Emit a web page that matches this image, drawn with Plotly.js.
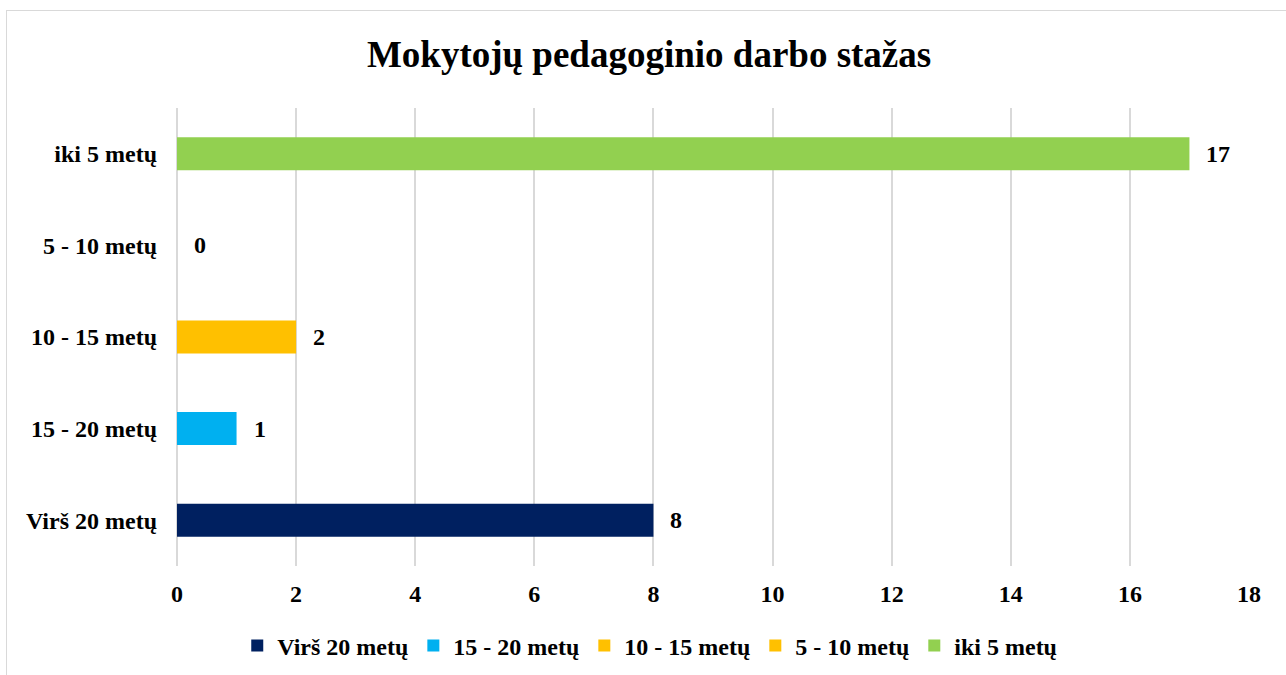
<!DOCTYPE html>
<html>
<head>
<meta charset="utf-8">
<script src="https://cdn.plot.ly/plotly-3.0.1.min.js"></script>
<style>
  html, body { margin: 0; padding: 0; background: #ffffff; overflow: hidden; }
  #wrap { position: relative; width: 1286px; height: 675px; }
  #chart { position: absolute; left: 0; top: 0; width: 1286px; height: 675px; }
  #frame { position: absolute; left: 6px; top: 10px; width: 1300px; height: 700px;
           border-left: 1.5px solid #d9d9d9; border-top: 1.5px solid #d9d9d9; pointer-events: none; }
</style>
</head>
<body>
<div id="wrap">
  <div id="chart"></div>
  <div id="frame"></div>
</div>
<script>
// Data
const titleText = 'Mokytojų pedagoginio darbo stažas';
const categories = ['Virš 20 metų', '15 - 20 metų', '10 - 15 metų', '5 - 10 metų', 'iki 5 metų'];
const values = [8, 1, 2, 0, 17];
const xTicks = [0, 2, 4, 6, 8, 10, 12, 14, 16, 18];

// Styles
const barColors = ['#002060', '#00B0F0', '#FFC000', '#FFC000', '#92D050'];
const FONT = 'Liberation Serif, Times New Roman, serif';

const traces = categories.map((c, i) => ({
  type: 'bar',
  orientation: 'h',
  name: c,
  x: [values[i]],
  y: [c],
  width: 0.36,
  marker: { color: barColors[i], line: { width: 0 } },
  hoverinfo: 'x+y'
}));

const annotations = categories.map((c, i) => ({
  x: values[i],
  y: c,
  xref: 'x',
  yref: 'y',
  text: String(values[i]),
  showarrow: false,
  xanchor: 'left',
  yanchor: 'middle',
  xshift: 15,
  font: { family: FONT, size: 24, color: '#000000', weight: 'bold' }
}));

const layout = {
  width: 1286,
  height: 675,
  paper_bgcolor: '#ffffff',
  plot_bgcolor: '#ffffff',
  margin: { l: 177, r: 37, t: 108, b: 109, pad: 0, autoexpand: false },
  font: { family: FONT, size: 24, color: '#000000', weight: 'bold' },
  title: {
    text: titleText,
    x: 0.5047,
    xref: 'container',
    xanchor: 'center',
    y: 1 - 54.5 / 675,
    yref: 'container',
    yanchor: 'middle',
    font: { family: FONT, size: 37, color: '#000000', weight: 'bold' }
  },
  barmode: 'overlay',
  showlegend: true,
  legend: {
    orientation: 'h',
    x: 0.441,
    xanchor: 'center',
    y: -0.1747,
    yanchor: 'middle',
    traceorder: 'normal',
    font: { family: FONT, size: 24, color: '#000000', weight: 'bold' },
    itemclick: false,
    itemdoubleclick: false
  },
  xaxis: {
    range: [0, 18],
    tickvals: xTicks,
    ticktext: xTicks.map(String),
    showgrid: true,
    gridcolor: '#d9d9d9',
    gridwidth: 1.5,
    zeroline: true,
    zerolinecolor: '#d9d9d9',
    zerolinewidth: 1.5,
    showline: false,
    ticks: '',
    automargin: false,
    ticklabelstandoff: 11,
    tickfont: { family: FONT, size: 24, color: '#000000', weight: 'bold' },
    fixedrange: true
  },
  yaxis: {
    type: 'category',
    categoryorder: 'array',
    categoryarray: categories,
    range: [-0.5, categories.length - 0.5],
    showgrid: false,
    zeroline: false,
    showline: false,
    ticks: '',
    automargin: false,
    ticklabelstandoff: 19,
    tickfont: { family: FONT, size: 24, color: '#000000', weight: 'bold' },
    fixedrange: true
  },
  annotations: annotations
};

Plotly.newPlot('chart', traces, layout, { displayModeBar: false, responsive: false });
</script>
</body>
</html>
